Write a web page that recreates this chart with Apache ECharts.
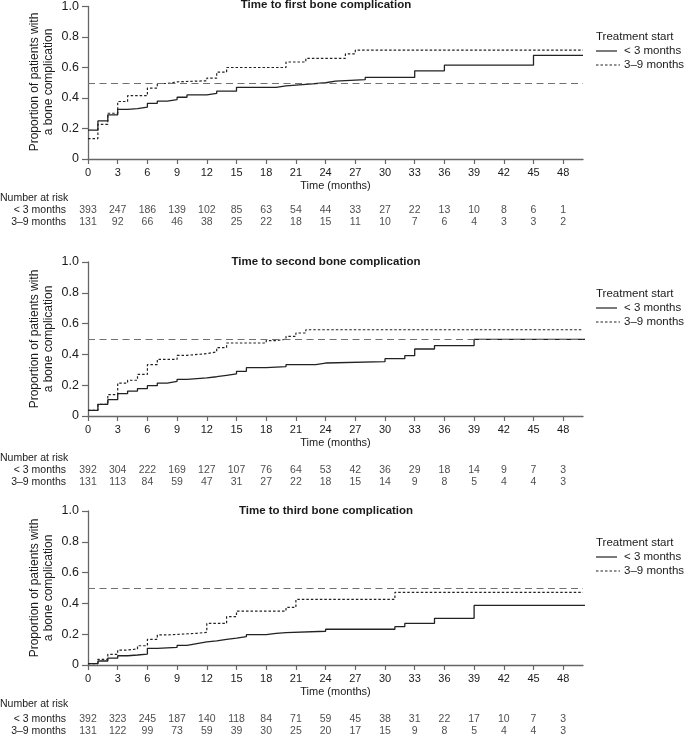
<!DOCTYPE html>
<html><head><meta charset="utf-8">
<script src="https://cdn.jsdelivr.net/npm/echarts@6/dist/echarts.min.js"></script>
<style>html,body{margin:0;padding:0;background:#fff}#c{width:685px;height:734px}</style>
</head><body><div id="c"></div>
<script>
// ---------- data ----------
const panelTitles = ['Time to first bone complication', 'Time to second bone complication', 'Time to third bone complication'];
const groupNames = ['< 3 months', '3\u20139 months'];
const legendTitle = 'Treatment start';
const riskHeader = 'Number at risk';
const yAxisTitle = 'Proportion of patients with\na bone complication';
const xAxisTitle = 'Time (months)';
const xTickValues = [0, 3, 6, 9, 12, 15, 18, 21, 24, 27, 30, 33, 36, 39, 42, 45, 48];
const refValue = 0.5;

// Panel 1: time to first bone complication
const p1Lt3Times = [0, 1, 2, 3, 4, 5, 6, 7, 8, 9, 10, 12, 13, 15, 19, 20, 22, 24, 25, 28, 33, 36, 45, 50];
const p1Lt3Vals  = [0.19, 0.25, 0.29, 0.325, 0.33, 0.34, 0.365, 0.38, 0.39, 0.405, 0.42, 0.43, 0.445, 0.47, 0.48, 0.49, 0.50, 0.51, 0.52, 0.535, 0.578, 0.615, 0.68, 0.68];
const p1MidTimes = [0, 1, 2, 3, 4, 6, 7, 8, 9, 12, 13, 14, 20, 22, 26, 27, 50];
const p1MidVals  = [0.134, 0.227, 0.30, 0.377, 0.415, 0.465, 0.495, 0.506, 0.513, 0.53, 0.57, 0.60, 0.636, 0.66, 0.69, 0.714, 0.714];
const p1RiskLt3 = [393, 247, 186, 139, 102, 85, 63, 54, 44, 33, 27, 22, 13, 10, 8, 6, 1];
const p1RiskMid = [131, 92, 66, 46, 38, 25, 22, 18, 15, 11, 10, 7, 6, 4, 3, 3, 2];

// Panel 2: time to second bone complication
const p2Lt3Times = [0, 1, 2, 3, 4, 5, 6, 7, 8, 9, 10, 12, 13, 14, 15, 16, 18, 20, 23, 24, 30, 32, 33, 35, 39, 50.5];
const p2Lt3Vals  = [0.037, 0.076, 0.106, 0.145, 0.162, 0.178, 0.197, 0.214, 0.225, 0.238, 0.247, 0.255, 0.264, 0.273, 0.29, 0.314, 0.32, 0.333, 0.344, 0.353, 0.372, 0.392, 0.435, 0.457, 0.498, 0.498];
const p2MidTimes = [0, 1, 2, 3, 4, 5, 6, 7, 9, 10, 12, 13, 14, 18, 19, 20, 21, 22, 50];
const p2MidVals  = [0.037, 0.076, 0.139, 0.214, 0.232, 0.27, 0.333, 0.368, 0.394, 0.405, 0.416, 0.444, 0.474, 0.49, 0.498, 0.517, 0.539, 0.56, 0.56];
const p2RiskLt3 = [392, 304, 222, 169, 127, 107, 76, 64, 53, 42, 36, 29, 18, 14, 9, 7, 3];
const p2RiskMid = [131, 113, 84, 59, 47, 31, 27, 22, 18, 15, 14, 9, 8, 5, 4, 4, 3];

// Panel 3: time to third bone complication
const p3Lt3Times = [0, 1, 2, 3, 4, 5, 6, 7, 9, 10, 11, 12, 13, 14, 15, 16, 18, 19, 20, 24, 31, 32, 35, 39, 50.5];
const p3Lt3Vals  = [0.009, 0.026, 0.045, 0.06, 0.065, 0.071, 0.108, 0.115, 0.128, 0.139, 0.15, 0.156, 0.167, 0.175, 0.184, 0.197, 0.206, 0.21, 0.219, 0.232, 0.249, 0.27, 0.303, 0.387, 0.387];
const p3MidTimes = [0, 1, 2, 3, 4, 5, 6, 7, 8, 11, 12, 14, 15, 20, 21, 31, 50];
const p3MidVals  = [0.009, 0.037, 0.069, 0.097, 0.104, 0.125, 0.167, 0.195, 0.206, 0.212, 0.27, 0.314, 0.35, 0.374, 0.426, 0.472, 0.472];
const p3RiskLt3 = [392, 323, 245, 187, 140, 118, 84, 71, 59, 45, 38, 31, 22, 17, 10, 7, 3];
const p3RiskMid = [131, 122, 99, 73, 59, 39, 30, 25, 20, 17, 15, 9, 8, 5, 4, 4, 3];

// ---------- build ----------
const panels = [
  {lt3T: p1Lt3Times, lt3V: p1Lt3Vals, midT: p1MidTimes, midV: p1MidVals, rL: p1RiskLt3, rM: p1RiskMid},
  {lt3T: p2Lt3Times, lt3V: p2Lt3Vals, midT: p2MidTimes, midV: p2MidVals, rL: p2RiskLt3, rM: p2RiskMid},
  {lt3T: p3Lt3Times, lt3V: p3Lt3Vals, midT: p3MidTimes, midV: p3MidVals, rL: p3RiskLt3, rM: p3RiskMid}
];
const FONT = '"Liberation Sans", Arial, sans-serif';
const TXT = '#1a1a1a';
const AX = '#666666';
const CURVE = '#222222';
const gridTops = [5, 262, 511];
const gridH = 154;
const gridLeft = 88, gridW = 495;
// px offsets below axis for the risk rows (converted into axis units)
const riskRowPx = [[51.5, 63.5], [54, 66], [53.8, 66.2]];
const riskHeadPx = [39.5, 42, 39];

const grid = [], xAxis = [], yAxis = [], series = [], title = [], graphic = [];
panels.forEach((p, i) => {
  const top = gridTops[i];
  grid.push({left: gridLeft, top: top, width: gridW, height: gridH, containLabel: false});
  xAxis.push({
    type: 'value', gridIndex: i, min: 0, max: 50,
    axisLine: {show: true, lineStyle: {color: AX, width: 1.3}},
    axisTick: {show: true, length: 5, lineStyle: {color: AX, width: 1.2}, customValues: xTickValues},
    axisLabel: {show: true, margin: 8, fontSize: 11, color: TXT, fontFamily: FONT, customValues: xTickValues},
    splitLine: {show: false},
    name: xAxisTitle, nameLocation: 'middle', nameGap: 21,
    nameTextStyle: {fontSize: 11, color: TXT, fontFamily: FONT}
  });
  yAxis.push({
    type: 'value', gridIndex: i, min: 0, max: 1, interval: 0.2,
    axisLine: {show: true, lineStyle: {color: AX, width: 1.3}},
    axisTick: {show: true, length: 6, lineStyle: {color: AX, width: 1.2}},
    axisLabel: {show: true, margin: 9, fontSize: 12.5, color: TXT, fontFamily: FONT,
      formatter: v => v === 0 ? '0' : v.toFixed(1)},
    splitLine: {show: false}
  });
  title.push({
    text: panelTitles[i], left: 326, top: top - 7, padding: 0, textAlign: 'center',
    textStyle: {fontSize: 11.5, fontWeight: 'bold', color: TXT, fontFamily: FONT, lineHeight: 14}
  });
  series.push({
    type: 'line', name: groupNames[0], xAxisIndex: i, yAxisIndex: i, step: 'end', symbol: 'none', clip: false,
    data: p.lt3T.map((t, j) => [t, p.lt3V[j]]),
    lineStyle: {color: CURVE, width: 1.3, type: 'solid'}, z: 3
  });
  series.push({
    type: 'line', name: groupNames[1], xAxisIndex: i, yAxisIndex: i, step: 'end', symbol: 'none', clip: false,
    data: p.midT.map((t, j) => [t, p.midV[j]]),
    lineStyle: {color: CURVE, width: 1.2, type: [2.5, 2]}, z: 3,
    markLine: {silent: true, symbol: ['none', 'none'], label: {show: false},
      lineStyle: {color: '#707070', width: 1.2, type: [7, 4.5]}, data: [{yAxis: refValue}]}
  });
  // numbers at risk, positioned via the same x scale
  const rowVals = riskRowPx[i].map(px => -px / gridH);
  [p.rL, p.rM].forEach((counts, r) => {
    series.push({
      type: 'scatter', xAxisIndex: i, yAxisIndex: i, clip: false, symbolSize: 0.01,
      itemStyle: {color: 'rgba(0,0,0,0)'}, silent: true,
      data: xTickValues.map((t, j) => [t, rowVals[r], counts[j]]),
      label: {show: true, position: 'inside', formatter: q => String(q.value[2]),
        fontSize: 10.5, color: TXT, fontFamily: FONT}
    });
  });
  const axisY = top + gridH;
  // y-axis title (two lines, rotated)
  graphic.push({type: 'text', x: 42, y: top + 77, rotation: Math.PI / 2,
    style: {text: yAxisTitle, textAlign: 'center', textVerticalAlign: 'middle', lineHeight: 14,
      fill: TXT, font: '12px ' + FONT}});
  graphic.push({type: 'text', x: 0, y: axisY + riskHeadPx[i],
    style: {text: riskHeader, textVerticalAlign: 'middle', fill: TXT, font: '10.5px ' + FONT}});
  riskRowPx[i].forEach((px, r) => {
    graphic.push({type: 'text', x: 66, y: axisY + px,
      style: {text: groupNames[r], textAlign: 'right', textVerticalAlign: 'middle', fill: TXT, font: '10.5px ' + FONT}});
  });
  // legend block
  graphic.push({type: 'text', x: 596, y: top + 32,
    style: {text: legendTitle, textVerticalAlign: 'middle', fill: TXT, font: '11.5px ' + FONT}});
  graphic.push({type: 'line', shape: {x1: 596, y1: top + 46, x2: 617, y2: top + 46},
    style: {stroke: CURVE, lineWidth: 1.2}});
  graphic.push({type: 'text', x: 624, y: top + 46,
    style: {text: groupNames[0], textVerticalAlign: 'middle', fill: TXT, font: '11.5px ' + FONT}});
  graphic.push({type: 'line', shape: {x1: 596, y1: top + 60, x2: 620, y2: top + 60},
    style: {stroke: CURVE, lineWidth: 1.2, lineDash: [2.5, 2]}});
  graphic.push({type: 'text', x: 624, y: top + 60,
    style: {text: groupNames[1], textVerticalAlign: 'middle', fill: TXT, font: '11.5px ' + FONT}});
});

const chart = echarts.init(document.getElementById('c'), null, {renderer: 'canvas'});
chart.setOption({
  animation: false,
  backgroundColor: '#fff',
  textStyle: {fontFamily: FONT},
  title: title, grid: grid, xAxis: xAxis, yAxis: yAxis, series: series, graphic: graphic
});
</script>
</body></html>
